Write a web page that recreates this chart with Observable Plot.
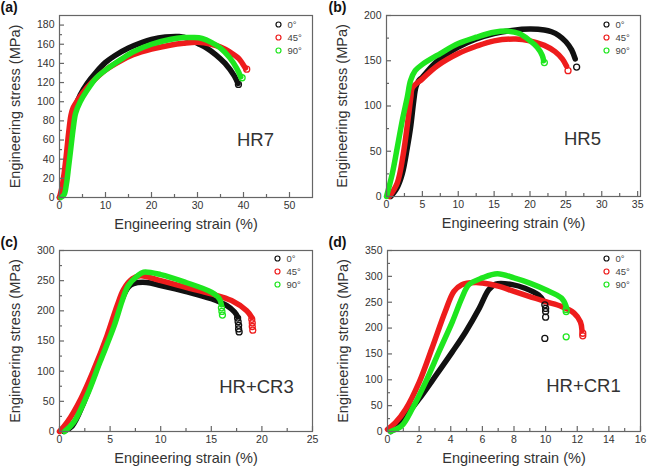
<!DOCTYPE html>
<html><head><meta charset="utf-8">
<script src="https://cdn.jsdelivr.net/npm/d3@7"></script>
<script src="https://cdn.jsdelivr.net/npm/@observablehq/plot@0.6"></script>
<style>
body{margin:0;background:#fff;}
#wrap{position:relative;width:649px;height:470px;overflow:hidden;}
#wrap svg{position:absolute;}
</style></head><body><div id="wrap"></div>
<script>
// ---------- data ----------
const angles = ["0°", "45°", "90°"];
const colors = ["#111111", "#ee1c1c", "#1ee61e"];
const xLabel = "Engineering strain (%)";
const yLabel = "Engineering stress (MPa)";

// (a) HR7
const a0 = [[0,0],[0.8,4],[1.5,22],[2.2,52],[2.8,78],[3.5,95],[4.5,107],[6,119],[8,131],[10,141],[12,148],[15,156],[18,162],[20,165],[23,167.5],[26,168],[28,166],[30,161],[32,156],[34,149],[36,140],[38,127],[38.8,119]];
const a45 = [[0,0],[0.5,10],[1,25],[1.5,45],[2,68],[2.5,86],[3,94],[4,102],[5,109],[7,120],[10,133],[13,142],[16,149],[20,155],[24,159],[27,161],[30,162],[33,160],[35,157],[37,152],[39,145],[40.4,135]];
const a90 = [[0.3,0],[1,3],[1.5,14],[2,33],[2.5,53],[3,73],[3.5,88],[4.5,100],[6,112],[8,125],[10,133],[13,143],[16,152],[20,160],[24,165],[27,167],[29,167],[31,166],[33,162],[35,156],[37,146],[38.5,135],[39.4,126]];
const aTail0 = [[38.9,118]], aTail45 = [[40.7,134]], aTail90 = [[39.7,125]];

// (b) HR5
const b0 = [[0.6,0],[1.5,10],[2.2,25],[2.9,54],[3.35,76],[3.8,106],[4.1,121],[4.5,128],[5,132],[7,149],[10,165],[12.5,174],[15,180],[17.5,183.5],[20,185],[22,184],[23,182],[24,178],[25,171],[25.8,162],[26.3,152]];
const b45 = [[0.4,0],[1.5,15],[2.3,45],[3,85],[3.4,110],[3.6,120],[5,130],[7,144],[10,158],[12.5,166],[15,172],[18,174],[20,172],[22,167],[23.5,160],[24.5,152],[25.1,144]];
const b90 = [[0,0],[0.8,25],[1.5,54],[2.2,84],[2.9,110],[3.35,128],[4,139],[5,146],[7.5,158],[10,169],[12.5,176],[15,181.5],[17,182.7],[18.5,180],[20,172],[21,165],[21.7,156],[21.9,150]];
const bTail0 = [[26.5,143]], bTail45 = [[25.3,139]], bTail90 = [[22,148]];

// (c) HR+CR3
const c0 = [[0.4,0],[1.25,9],[2.4,48],[3.4,92],[4.4,137],[5.4,181],[6.2,220],[6.8,239],[7.3,245],[8.6,247],[10,242],[12.5,232],[15,220],[16.5,209],[17.3,198],[17.6,190]];
const c45 = [[0,0],[0.75,15],[2.1,54],[3.4,103],[4.7,159],[5.7,209],[6.35,236],[7.2,253],[8,258],[10,250],[12.5,239],[15,228],[17,217],[18.5,200],[19,189]];
const c90 = [[0.5,0],[1.4,15],[2.7,59],[4,115],[5.4,175],[6.2,217],[6.8,242],[7.7,258],[8.3,264],[10,260],[12.5,247],[15,231],[15.8,220],[16,210]];
const cTail0 = [[17.6,188],[17.65,182],[17.7,176],[17.7,170],[17.75,165]];
const cTail45 = [[19,186],[19.05,180],[19.05,174],[19.1,168]];
const cTail90 = [[16,205],[16.05,199],[16.1,193]];

// (d) HR+CR1
const d0 = [[0.2,0],[1.15,30],[2.0,63],[3.05,108],[4.1,154],[4.95,193],[5.8,238],[6.4,274],[6.85,285],[7.9,284],[8.7,277],[9.55,264],[9.9,251]];
const d45 = [[0,4],[0.5,17],[1.15,43],[2.0,95],[2.8,160],[3.65,232],[4.2,271],[4.7,284],[5.55,288],[6,287],[7,281],[8,271],[9,261],[10,251],[11,242],[11.8,229],[12.2,212],[12.3,195]];
const d90 = [[0.2,0],[0.9,11],[1.55,43],[2.4,95],[3.25,154],[4.1,212],[4.7,258],[5.15,284],[6,297],[6.95,305],[8,297],[9,287],[10,274],[11,258],[11.3,242]];
const dTail0 = [[9.95,245],[10,238],[10,232],[10,221],[9.95,180]];
const dTail45 = [[12.35,190],[12.35,185]];
const dTail90 = [[11.3,236],[11.3,232],[11.3,183]];

// tick values
const aXTicks = [0,10,20,30,40,50], aXMinor = [5,15,25,35,45];
const aYTicks = [0,20,40,60,80,100,120,140,160,180], aYMinor = [10,30,50,70,90,110,130,150,170];
const bXTicks = [0,5,10,15,20,25,30,35], bXMinor = [2.5,7.5,12.5,17.5,22.5,27.5,32.5];
const bYTicks = [0,50,100,150,200], bYMinor = [25,75,125,175];
const cXTicks = [0,5,10,15,20,25], cXMinor = [2.5,7.5,12.5,17.5,22.5];
const cYTicks = [0,50,100,150,200,250,300], cYMinor = [25,75,125,175,225,275];
const dXTicks = [0,2,4,6,8,10,12,14,16], dXMinor = [1,3,5,7,9,11,13,15];
const dYTicks = [0,50,100,150,200,250,300,350], dYMinor = [25,75,125,175,225,275,325];

// ---------- drawing ----------
const FONT = "Arial, 'Liberation Sans', sans-serif";
const FRAME = "#666";

function panel(o) {
  const W = o.width, H = 235;
  const m = o.margin;
  const pw = W - m.left - m.right, ph = H - m.top - m.bottom;
  const marks = [];
  o.series.forEach((s, i) => {
    marks.push(Plot.line(s, {x: d => d[0], y: d => d[1], stroke: colors[i], strokeWidth: 5.5,
      curve: "catmull-rom", strokeLinecap: "round", strokeLinejoin: "round"}));
  });
  o.tails.forEach((t, i) => {
    marks.push(Plot.dot(t, {x: d => d[0], y: d => d[1], r: 3, stroke: colors[i], strokeWidth: 1.3, fill: "none"}));
  });
  marks.push(
    Plot.frame({stroke: FRAME, strokeWidth: 1.2}),
    Plot.tickX(o.xTicks, {x: d => d, insetTop: ph - 5, stroke: FRAME, strokeWidth: 1.2}),
    Plot.tickX(o.xMinor, {x: d => d, insetTop: ph - 3, stroke: FRAME, strokeWidth: 1.2}),
    Plot.tickY(o.yTicks, {y: d => d, insetRight: pw - 5, stroke: FRAME, strokeWidth: 1.2}),
    Plot.tickY(o.yMinor, {y: d => d, insetRight: pw - 3, stroke: FRAME, strokeWidth: 1.2}),
    Plot.axisX(o.xTicks, {tickSize: 0, tickPadding: 4, label: null, fontSize: 10.5, fill: "#333"}),
    Plot.axisY(o.yTicks, {tickSize: 0, tickPadding: 5, label: null, fontSize: 10.5, fill: "#333"}),
    Plot.text([xLabel], {frameAnchor: "bottom", textAnchor: "middle", lineAnchor: "middle", dy: 27, fontSize: 14.5, fill: "#333"}),
    Plot.text([yLabel], {frameAnchor: "left", textAnchor: "middle", lineAnchor: "middle", dx: -44, rotate: -90, fontSize: 14.5, fill: "#333"}),
    Plot.text([o.letter], {frameAnchor: "top-left", textAnchor: "start", lineAnchor: "middle", dx: -m.left + o.letterDx, dy: -8, fontSize: 14, fontWeight: "bold", fill: "#111"}),
    Plot.text([o.name], {frameAnchor: "bottom-right", textAnchor: "middle", lineAnchor: "middle", dx: o.nameDx, dy: o.nameDy, fontSize: 18.5, fill: "#333"})
  );
  angles.forEach((a, i) => {
    marks.push(
      Plot.dot([a], {frameAnchor: "top-right", dx: o.legDx, dy: o.legDy + 13 * i, r: 2.5, stroke: colors[i], strokeWidth: 1.2, fill: "none"}),
      Plot.text([a], {frameAnchor: "top-right", textAnchor: "start", lineAnchor: "middle", dx: o.legDx + 9, dy: o.legDy + 13 * i, fontSize: 9.5, fill: "#444"})
    );
  });
  const svg = Plot.plot({
    width: W, height: H,
    marginLeft: m.left, marginRight: m.right, marginTop: m.top, marginBottom: m.bottom,
    x: {domain: o.xDomain, axis: null},
    y: {domain: o.yDomain, axis: null},
    style: {fontFamily: FONT, background: "transparent", overflow: "visible"},
    marks
  });
  svg.style.left = o.left + "px";
  svg.style.top = o.top + "px";
  document.getElementById("wrap").appendChild(svg);
}

panel({left: 0, top: 0, width: 325, letter: "(a)", letterDx: 0, name: "HR7", nameDx: -57, nameDy: -57,
  margin: {left: 59, right: 13, top: 15, bottom: 38},
  xDomain: [0, 55], yDomain: [0, 190], xTicks: aXTicks, xMinor: aXMinor, yTicks: aYTicks, yMinor: aYMinor,
  series: [a0, a45, a90], tails: [aTail0, aTail45, aTail90], legDx: -34, legDy: 9});

panel({left: 325, top: 0, width: 324, letter: "(b)", letterDx: 3, name: "HR5", nameDx: -58, nameDy: -57,
  margin: {left: 61, right: 9, top: 15, bottom: 39},
  xDomain: [0, 35.4], yDomain: [0, 200], xTicks: bXTicks, xMinor: bXMinor, yTicks: bYTicks, yMinor: bYMinor,
  series: [b0, b45, b90], tails: [bTail0, bTail45, bTail90], legDx: -34, legDy: 9});

panel({left: 0, top: 235, width: 325, letter: "(c)", letterDx: 0, name: "HR+CR3", nameDx: -56, nameDy: -44,
  margin: {left: 59, right: 13, top: 15, bottom: 39},
  xDomain: [0, 25], yDomain: [0, 300], xTicks: cXTicks, xMinor: cXMinor, yTicks: cYTicks, yMinor: cYMinor,
  series: [c0, c45, c90], tails: [cTail0, cTail45, cTail90], legDx: -35, legDy: 8});

panel({left: 325, top: 235, width: 324, letter: "(d)", letterDx: 3, name: "HR+CR1", nameDx: -57, nameDy: -45,
  margin: {left: 62, right: 9, top: 15, bottom: 39},
  xDomain: [0, 16], yDomain: [0, 350], xTicks: dXTicks, xMinor: dXMinor, yTicks: dYTicks, yMinor: dYMinor,
  series: [d0, d45, d90], tails: [dTail0, dTail45, dTail90], legDx: -34, legDy: 8});
</script>
</body></html>
